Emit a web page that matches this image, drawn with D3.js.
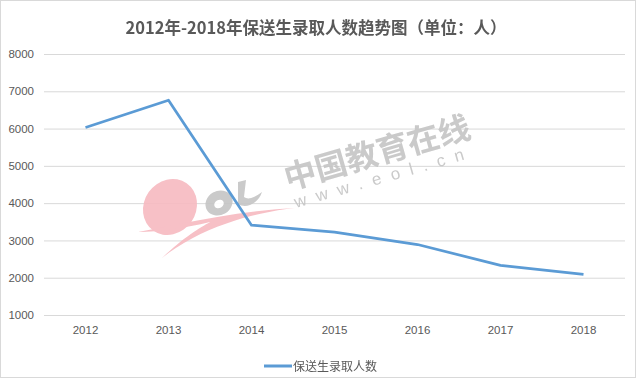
<!DOCTYPE html>
<html><head><meta charset="utf-8">
<script src="https://cdn.jsdelivr.net/npm/d3@7/dist/d3.min.js"></script>
<style>body{margin:0;background:#fff}svg{display:block}</style>
</head><body>
<svg id="c" width="636" height="378"></svg>
<script>
const years = ["2012","2013","2014","2015","2016","2017","2018"];
const seriesName = "保送生录取人数";
const values = [6030, 6760, 3410, 3220, 2890, 2330, 2090];
const yTicks = [1000,2000,3000,4000,5000,6000,7000,8000];
const title = "2012年-2018年保送生录取人数趋势图（单位：人）";

const svg = d3.select("#c");
const W = 636, H = 378;
const cjk = "'Noto Sans CJK SC','Microsoft YaHei',sans-serif";
const lat = "'Liberation Sans','DejaVu Sans',sans-serif";
const txt = "#595959";

svg.append("rect").attr("x",0.5).attr("y",0.5).attr("width",W-1).attr("height",H-1)
  .attr("fill","#fff").attr("stroke","#d9d9d9");

const x = d3.scaleBand().domain(years).range([44,625]).padding(0);
const y = d3.scaleLinear().domain([1000,8000]).range([315,54]);

// gridlines
svg.append("g").selectAll("line").data(yTicks).join("line")
  .attr("x1",44).attr("x2",625).attr("y1",d=>y(d)+0.5).attr("y2",d=>y(d)+0.5)
  .attr("stroke","#d9d9d9").attr("stroke-width",1);

// y axis labels
const yAxis = d3.axisLeft(y).tickValues(yTicks).tickSize(0).tickPadding(0).tickFormat(d3.format("d"));
const gy = svg.append("g").attr("transform","translate(34,0)").call(yAxis);
gy.select(".domain").remove();
gy.selectAll("text").attr("fill",txt).style("font-family",lat).style("font-size","11.5px");

// x axis labels
const xAxis = d3.axisBottom(x).tickSize(0).tickPadding(0);
const gx = svg.append("g").attr("transform","translate(0,326)").call(xAxis);
gx.select(".domain").remove();
gx.selectAll("text").attr("fill",txt).style("font-family",lat).style("font-size","11.5px");

// watermark
const wm = svg.append("g").attr("opacity",0.9);
wm.append("ellipse").attr("cx",170).attr("cy",207).attr("rx",26).attr("ry",29)
  .attr("transform","rotate(35,170,207)").attr("fill","#f6b9c0");
wm.append("path").attr("d","M138,232 C190,222 245,210 295,208 C250,213 200,228 162,258 C185,236 200,228 210,222 C185,228 160,232 138,232 Z")
  .attr("fill","#f6b9c0");
wm.append("ellipse").attr("cx",219).attr("cy",203).attr("rx",14).attr("ry",12)
  .attr("transform","rotate(-30,219,203)").attr("fill","#c4c4c4");
wm.append("ellipse").attr("cx",219).attr("cy",204).attr("rx",5).attr("ry",4)
  .attr("transform","rotate(-30,219,204)").attr("fill","#fff");
wm.append("path").attr("d","M238,182 L246,180 L244,197 C248,200 254,198 262,192 C258,204 246,209 238,204 Z")
  .attr("fill","#c4c4c4");
wm.append("text").attr("x",288).attr("y",190).attr("transform","rotate(-16,288,190)")
  .attr("fill","#c4c4c4").style("font-family",cjk).style("font-weight","bold").style("font-size","32px")
  .text("中国教育在线");
wm.append("text").attr("x",296).attr("y",208).attr("transform","rotate(-16,296,208)")
  .attr("fill","#c4c4c4").style("font-family",lat).style("font-size","17px").style("letter-spacing","10px")
  .text("www.eol.cn");

// line
const line = d3.line().x((d,i)=>x(years[i])+x.bandwidth()/2).y(d=>y(d));
svg.append("path").datum(values).attr("d",line).attr("fill","none")
  .attr("stroke","#5b9bd5").attr("stroke-width",2.75).attr("stroke-linejoin","round");

// title
svg.append("text").attr("x",316).attr("y",34).attr("text-anchor","middle")
  .attr("fill",txt).style("font-family",cjk).style("font-weight","bold").style("font-size","16.5px")
  .text(title);

// legend
svg.append("line").attr("x1",264).attr("x2",292).attr("y1",366).attr("y2",366)
  .attr("stroke","#5b9bd5").attr("stroke-width",3);
svg.append("text").attr("x",293).attr("y",370.5).attr("fill",txt)
  .style("font-family",cjk).style("font-size","12px").text(seriesName);
</script>
</body></html>
